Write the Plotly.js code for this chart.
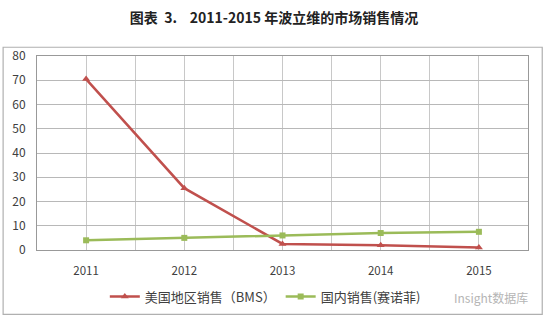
<!DOCTYPE html>
<html>
<head>
<meta charset="utf-8">
<script src="https://cdn.plot.ly/plotly-3.0.1.min.js"></script>
<style>html,body{margin:0;padding:0;background:#fff;}#chart{width:548px;height:323px;}</style>
</head>
<body>
<div id="chart"></div>
<script>
const years = [2011, 2012, 2013, 2014, 2015];
const usSales = [70.5, 25.5, 2.5, 2, 1];
const cnSales = [4, 5, 6, 7, 7.5];
const seriesNames = ['美国地区销售（BMS）', '国内销售(赛诺菲)'];
const yTicks = [0, 10, 20, 30, 40, 50, 60, 70, 80];

const xTickVals = [];
const xTickText = [];
for (let i = 0; i < years.length; i++) {
  xTickVals.push(years[i] - 0.5); xTickText.push('');
  xTickVals.push(years[i]); xTickText.push(String(years[i]));
}
xTickVals.push(years[years.length - 1] + 0.5); xTickText.push('');

const font = '"Noto Sans CJK SC", "Noto Sans", sans-serif';

const traces = [
  {x: years, y: usSales, name: seriesNames[0], type: 'scatter', mode: 'lines+markers',
   line: {color: '#C0504D', width: 2.5}, marker: {symbol: 'triangle-up', size: 7, color: '#C0504D'}},
  {x: years, y: cnSales, name: seriesNames[1], type: 'scatter', mode: 'lines+markers',
   line: {color: '#9BBB59', width: 2.5}, marker: {symbol: 'square', size: 6, color: '#9BBB59'}}
];

const layout = {
  width: 548, height: 323,
  margin: {l: 37, r: 20, t: 56, b: 71},
  paper_bgcolor: '#fff', plot_bgcolor: '#fff',
  font: {family: font, size: 11, color: '#404040'},
  title: {text: '<b>图表  3.    2011-2015 年波立维的市场销售情况</b>', x: 0.5, xanchor: 'center', y: 0.945, yanchor: 'middle',
          font: {family: font, size: 14, color: '#222'}},
  xaxis: {range: [years[0] - 0.5, years[years.length - 1] + 0.5], tickmode: 'array', tickvals: xTickVals, ticktext: xTickText,
          showgrid: true, gridcolor: '#c8c8c8', gridwidth: 1, zeroline: false,
          showline: true, linecolor: '#999', mirror: true, ticks: '', ticklabelstandoff: 10, fixedrange: true,
          tickfont: {family: font, size: 11.5, color: '#404040'}},
  yaxis: {range: [0, 80], tickmode: 'array', tickvals: yTicks, showgrid: true, gridcolor: '#b8b8b8', gridwidth: 1,
          zeroline: false, showline: true, linecolor: '#999', mirror: true, ticks: '', ticklabelstandoff: 8,
          tickfont: {family: font, size: 12, color: '#404040'}},
  showlegend: true,
  legend: {orientation: 'h', x: 0.465, xanchor: 'center', y: -0.24, yanchor: 'middle',
           font: {family: font, size: 13, color: '#404040'}, bgcolor: 'rgba(0,0,0,0)'},
  shapes: [
    {type: 'rect', xref: 'paper', yref: 'paper', x0: -0.069, x1: 1.029, y0: -0.332, y1: 1.045,
     line: {color: '#b0b0b0', width: 1.2}, fillcolor: 'rgba(0,0,0,0)'}
  ],
  annotations: [
    {text: 'Insight数据库', xref: 'paper', yref: 'paper', x: 1.005, y: -0.245, xanchor: 'right', yanchor: 'middle',
     showarrow: false, font: {family: font, size: 12, color: '#b5b5b5'}}
  ]
};

Plotly.newPlot('chart', traces, layout, {displayModeBar: false, staticPlot: true});
</script>
</body>
</html>
